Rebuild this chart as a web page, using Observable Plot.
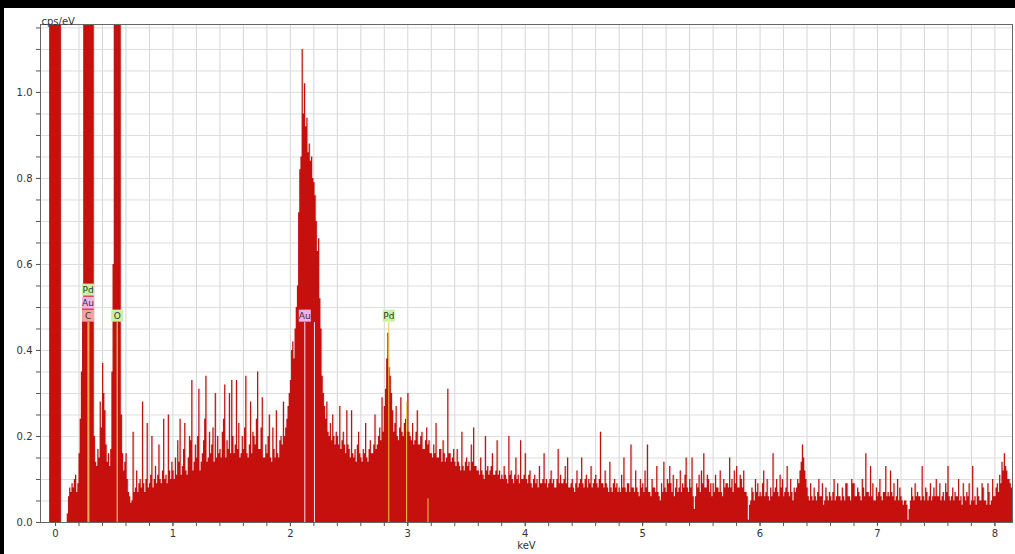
<!DOCTYPE html>
<html><head><meta charset="utf-8">
<script src="https://cdn.jsdelivr.net/npm/d3@7"></script>
<script src="https://cdn.jsdelivr.net/npm/@observablehq/plot@0.6"></script>
<style>
html,body{margin:0;padding:0;background:#fff;}
#wrap{position:relative;width:1015px;height:554px;overflow:hidden;}
#chart{position:absolute;left:0;top:0;}
.band{position:absolute;background:#000;z-index:2;}
</style></head><body>
<div id="wrap">
<div id="chart"></div>
<div class="band" style="left:0;top:0;width:1015px;height:8px"></div>
<div class="band" style="left:0;top:0;width:4px;height:554px"></div>
</div>
<script>
// EDS spectrum: channel start energy (keV) and channel width (keV)
const energyStart = -0.1;
const channelWidth = 0.01;
// counts (cps/eV), 20 channels per 0.2 keV
const counts = [
  0,0,0,0,0,3,3,3,3,3,                                                                              // -0.1
  3,3,3,3,3,0,0,0,0,0,0.02,0.06,0.08,0.07,0.09,0.08,0.10,0.11,0.07,0.09,                            // 0.0
  0.16,0.24,0.35,0.5,3,3,3,3,3,3,3,3,3,0.2,0.14,0.13,0.17,0.15,0.28,0.22,                           // 0.2
  0.37,0.30,0.26,0.18,0.14,0.16,0.13,0.17,0.35,0.6,3,3,3,3,3,3,0.25,0.16,0.12,0.14,                 // 0.4
  0.16,0.10,0.07,0.06,0.045,0.05,0.21,0.07,0.08,0.12,0.07,0.09,0.10,0.08,0.28,0.09,0.07,0.10,0.23,0.08, // 0.6
  0.09,0.11,0.20,0.08,0.10,0.13,0.09,0.11,0.18,0.10,0.09,0.12,0.24,0.10,0.11,0.09,0.25,0.12,0.10,0.14,  // 0.8
  0.12,0.10,0.15,0.11,0.19,0.14,0.24,0.11,0.13,0.17,0.23,0.12,0.11,0.15,0.20,0.19,0.33,0.12,0.14,0.18,  // 1.0
  0.15,0.20,0.31,0.12,0.14,0.16,0.19,0.24,0.34,0.14,0.15,0.21,0.16,0.18,0.22,0.14,0.30,0.15,0.20,0.16,  // 1.2
  0.17,0.15,0.21,0.24,0.32,0.15,0.19,0.17,0.30,0.16,0.33,0.20,0.16,0.18,0.33,0.17,0.23,0.15,0.16,0.20,  // 1.4
  0.17,0.22,0.34,0.16,0.15,0.18,0.28,0.16,0.21,0.20,0.18,0.24,0.35,0.17,0.17,0.22,0.29,0.15,0.15,0.18,  // 1.6
  0.16,0.20,0.25,0.15,0.14,0.22,0.17,0.15,0.26,0.16,0.15,0.19,0.20,0.18,0.28,0.20,0.22,0.24,0.27,0.30,  // 1.8
  0.33,0.40,0.42,0.38,0.45,0.50,0.55,0.72,0.82,0.85,1.10,0.95,1.02,0.92,0.94,0.86,0.88,0.84,0.85,0.80,  // 2.0
  0.79,0.76,0.70,0.63,0.66,0.52,0.45,0.34,0.30,0.27,0.24,0.28,0.21,0.20,0.23,0.19,0.25,0.20,0.18,0.21,  // 2.2
  0.20,0.18,0.27,0.17,0.19,0.21,0.18,0.16,0.26,0.18,0.17,0.15,0.26,0.16,0.15,0.17,0.14,0.18,0.21,0.16,  // 2.4
  0.15,0.14,0.17,0.16,0.23,0.15,0.14,0.17,0.19,0.16,0.16,0.18,0.25,0.17,0.18,0.20,0.22,0.19,0.29,0.21,  // 2.6
  0.27,0.31,0.38,0.44,0.36,0.34,0.30,0.26,0.21,0.23,0.27,0.20,0.19,0.22,0.29,0.21,0.20,0.23,0.24,0.21,  // 2.8
  0.30,0.21,0.20,0.19,0.23,0.18,0.19,0.21,0.26,0.18,0.18,0.20,0.21,0.17,0.17,0.19,0.22,0.18,0.19,0.16,  // 3.0
  0.16,0.15,0.18,0.16,0.23,0.15,0.15,0.17,0.17,0.14,0.19,0.16,0.14,0.15,0.31,0.16,0.16,0.14,0.15,0.17,  // 3.2
  0.14,0.13,0.17,0.14,0.13,0.12,0.21,0.13,0.12,0.14,0.15,0.13,0.14,0.12,0.18,0.14,0.22,0.13,0.13,0.12,  // 3.4
  0.12,0.11,0.15,0.12,0.11,0.10,0.20,0.12,0.13,0.11,0.12,0.13,0.16,0.11,0.11,0.12,0.19,0.11,0.12,0.10,  // 3.6
  0.11,0.10,0.13,0.11,0.10,0.09,0.20,0.11,0.12,0.10,0.09,0.11,0.15,0.10,0.11,0.09,0.19,0.10,0.10,0.11,  // 3.8
  0.16,0.10,0.09,0.11,0.12,0.09,0.08,0.10,0.11,0.09,0.10,0.08,0.13,0.09,0.09,0.10,0.16,0.09,0.10,0.08,  // 4.0
  0.09,0.10,0.12,0.09,0.10,0.08,0.08,0.10,0.17,0.09,0.11,0.09,0.09,0.10,0.13,0.09,0.15,0.08,0.08,0.09,  // 4.2
  0.10,0.08,0.07,0.09,0.12,0.08,0.09,0.10,0.15,0.09,0.08,0.10,0.11,0.08,0.10,0.09,0.13,0.08,0.09,0.10,  // 4.4
  0.11,0.09,0.08,0.10,0.21,0.09,0.09,0.08,0.12,0.09,0.08,0.07,0.14,0.08,0.07,0.09,0.10,0.08,0.09,0.07,  // 4.6
  0.08,0.07,0.11,0.08,0.15,0.08,0.07,0.09,0.09,0.07,0.18,0.08,0.08,0.07,0.12,0.08,0.07,0.06,0.10,0.08,  // 4.8
  0.09,0.07,0.12,0.08,0.18,0.07,0.07,0.06,0.10,0.08,0.08,0.07,0.13,0.07,0.06,0.05,0.09,0.07,0.14,0.08,  // 5.0
  0.07,0.10,0.09,0.13,0.09,0.07,0.11,0.06,0.08,0.10,0.07,0.08,0.12,0.07,0.09,0.08,0.11,0.15,0.08,0.07,  // 5.2
  0.10,0.08,0.15,0.06,0.03,0.06,0.09,0.08,0.11,0.07,0.12,0.09,0.16,0.08,0.08,0.11,0.10,0.07,0.09,0.06,  // 5.4
  0.09,0.07,0.11,0.08,0.08,0.07,0.12,0.07,0.06,0.10,0.08,0.09,0.09,0.08,0.15,0.08,0.10,0.07,0.12,0.09,  // 5.6
  0.13,0.08,0.08,0.11,0.10,0.08,0.12,0.07,0.07,0.06,0.005,0.04,0.05,0.08,0.07,0.05,0.10,0.07,0.09,0.06, // 5.8
  0.07,0.06,0.09,0.12,0.06,0.07,0.10,0.06,0.05,0.08,0.06,0.16,0.07,0.08,0.10,0.07,0.06,0.11,0.08,0.10,  // 6.0
  0.06,0.07,0.08,0.13,0.07,0.06,0.10,0.07,0.05,0.08,0.07,0.08,0.10,0.09,0.12,0.14,0.18,0.15,0.12,0.10,  // 6.2
  0.08,0.06,0.05,0.09,0.06,0.05,0.08,0.06,0.05,0.07,0.10,0.06,0.06,0.09,0.04,0.05,0.08,0.06,0.05,0.07,  // 6.4
  0.06,0.05,0.07,0.10,0.05,0.06,0.09,0.06,0.06,0.05,0.08,0.06,0.05,0.09,0.09,0.06,0.06,0.05,0.10,0.09,  // 6.6
  0.09,0.06,0.06,0.08,0.07,0.06,0.05,0.10,0.08,0.06,0.16,0.07,0.07,0.06,0.13,0.06,0.09,0.05,0.05,0.08,  // 6.8
  0.06,0.07,0.10,0.06,0.05,0.07,0.07,0.13,0.06,0.07,0.06,0.12,0.07,0.06,0.09,0.05,0.06,0.10,0.05,0.08,  // 7.0
  0.06,0.05,0.04,0.05,0.05,0.04,0.005,0.03,0.05,0.08,0.06,0.05,0.09,0.06,0.07,0.06,0.06,0.05,0.13,0.06, // 7.2
  0.05,0.08,0.07,0.05,0.06,0.09,0.05,0.06,0.08,0.06,0.10,0.06,0.06,0.09,0.05,0.06,0.07,0.05,0.09,0.07,  // 7.4
  0.13,0.06,0.05,0.06,0.08,0.05,0.07,0.06,0.06,0.10,0.05,0.06,0.04,0.09,0.06,0.05,0.07,0.06,0.09,0.04,  // 7.6
  0.05,0.13,0.05,0.06,0.04,0.08,0.06,0.05,0.05,0.09,0.08,0.05,0.05,0.04,0.09,0.07,0.04,0.05,0.10,0.06,  // 7.8
  0.06,0.08,0.09,0.07,0.11,0.09,0.14,0.12,0.16,0.13,0.12,0.10,0.10,0.09,0.08,0.07,0.07,0.06,0.06,0.05   // 8.0
];
const xTickLabels = [0,1,2,3,4,5,6,7,8];
const yTickLabels = [0.0,0.2,0.4,0.6,0.8,1.0];
// identified lines
const lineElements = ["C","Pd","O","Au","Au","Pd","Pd","Pd"];
const lineEnergies = [0.277,0.284,0.525,2.123,2.205,2.838,2.990,3.172];
const lineHeights  = [0.465,0.465,0.465,0.465,0.465,0.465,0.28,0.055];
// label boxes
const labelElements = ["C","Au","Pd","O","Au","Pd"];
const labelEnergies = [0.277,0.277,0.277,0.525,2.123,2.838];
const labelStack    = [0,1,2,0,0,0];

const boxColor  = {C:"#f4a3a3", O:"#c8f2a6", Au:"#f0b2ea", Pd:"#c8f2a6"};
const lineColor = {C:"#f6d2d2", O:"#e2e88a", Au:"#fbdaf2", Pd:"#e6cc48"};

const spectrum = counts.map((v, i) => ({e: energyStart + i * channelWidth, v}));
const lines = lineElements.map((el, i) => ({el, e: lineEnergies[i], h: lineHeights[i]}));
const labels = labelElements.map((el, i) => ({el, e: labelEnergies[i], s: labelStack[i]}));

const yMax = 1.158;
const pxPerUnit = 498 / yMax;
const labelBase = 0.481;

const chart = Plot.plot({
  width: 1015,
  height: 554,
  marginLeft: 40,
  marginRight: 3,
  marginTop: 24,
  marginBottom: 32,
  style: {fontFamily: "DejaVu Sans", fontSize: "10px", color: "#333", background: "transparent"},
  x: {domain: [-0.128, 8.15]},
  y: {domain: [0, yMax]},
  marks: [
    Plot.gridX(d3.range(0, 8.2, 0.2), {stroke: "#d6d6d6", strokeOpacity: 1}),
    Plot.gridY(d3.range(0.05, 1.16, 0.05), {stroke: "#dedede", strokeOpacity: 1}),
    Plot.areaY(spectrum, {x: "e", y: "v", curve: "step-after", fill: "#c6100e", clip: true}),
    Plot.line(spectrum, {x: "e", y: "v", curve: "step-after", stroke: "#8a3030", strokeWidth: 0.5, strokeOpacity: 0.35, clip: true}),
    Plot.ruleX(lines, {x: "e", y1: 0, y2: "h", stroke: d => lineColor[d.el], strokeWidth: 1}),
    Plot.dot(labels, {x: "e", y: d => labelBase + d.s * 13 / pxPerUnit, symbol: "square", r: 6.8, fill: d => boxColor[d.el], stroke: "none"}),
    Plot.text(labels, {x: "e", y: d => labelBase + d.s * 13 / pxPerUnit, text: "el", fontSize: 9, fill: "#333"}),
    Plot.frame({stroke: "#666"}),
    Plot.axisX(d3.range(0, 8.2, 0.2), {tickSize: 4, tickFormat: () => "", label: null, stroke: "#555"}),
    Plot.axisX(xTickLabels, {tickSize: 4, tickPadding: 3, tickFormat: d3.format("d"), label: null, stroke: "#555", fill: "#333"}),
    Plot.axisY(d3.range(0, 1.16, 0.05), {tickSize: 4, tickFormat: () => "", label: null, stroke: "#555"}),
    Plot.axisY(yTickLabels, {tickSize: 4, tickPadding: 4, tickFormat: d3.format(".1f"), label: null, stroke: "#555", fill: "#333"}),
    Plot.text(["cps/eV"], {frameAnchor: "top-left", dx: 1, dy: -7, textAnchor: "start", fontSize: 10, fill: "#333"}),
    Plot.text(["keV"], {frameAnchor: "bottom", dy: 26, fontSize: 10, fill: "#333"})
  ]
});
document.getElementById("chart").appendChild(chart);
</script>
</body></html>
